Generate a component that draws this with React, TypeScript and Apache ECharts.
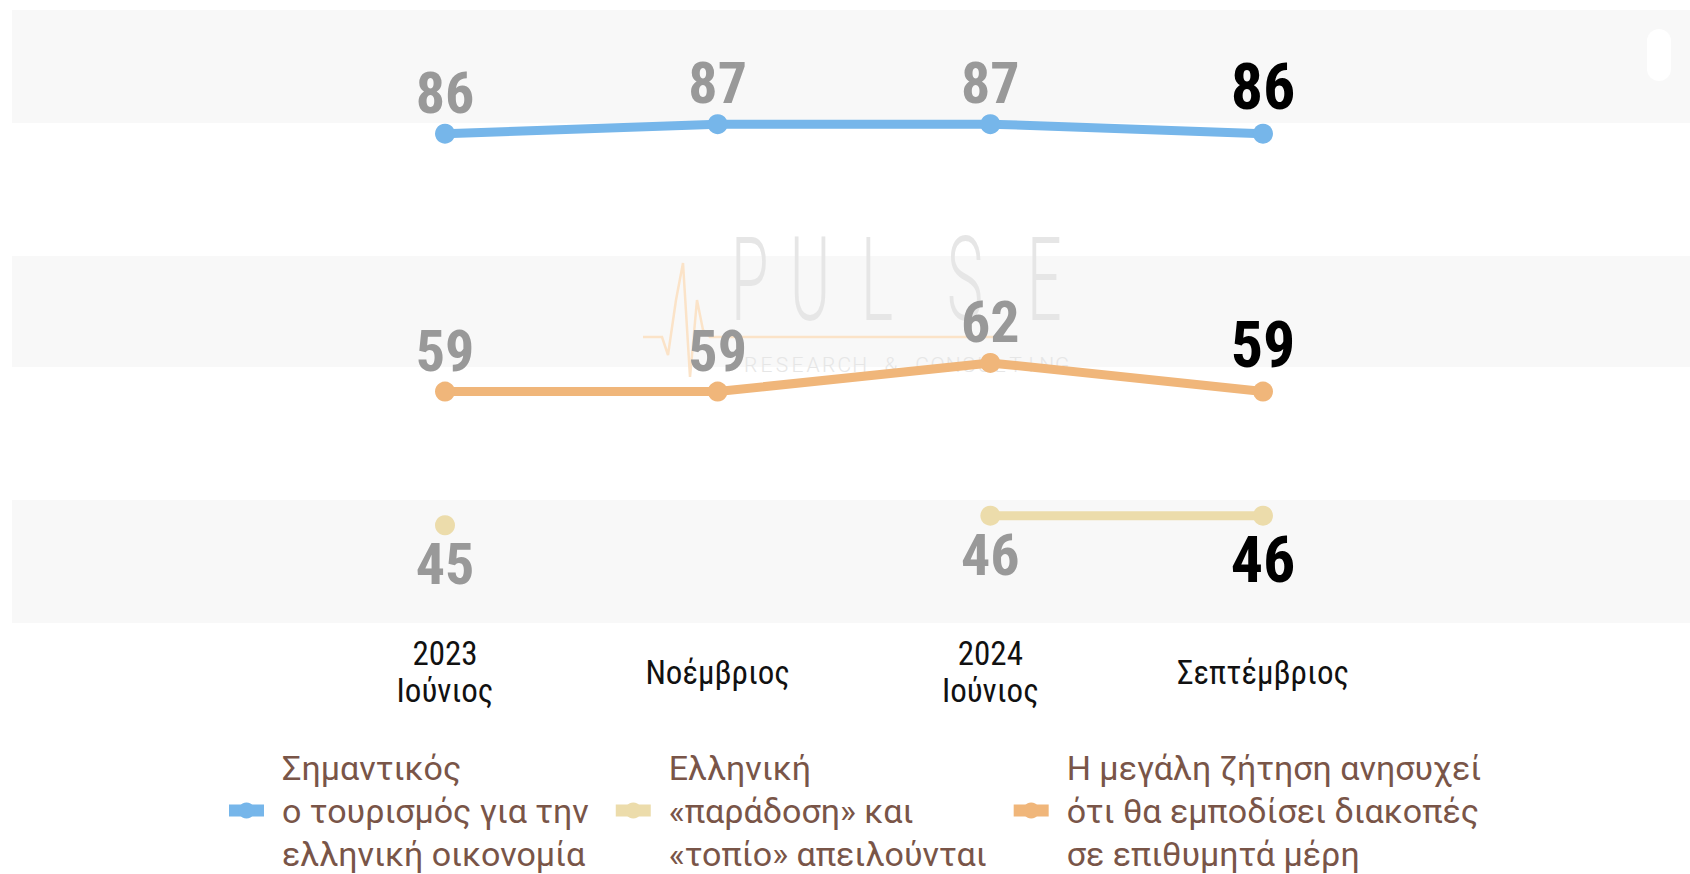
import React, { useEffect, useRef } from "react";
import * as echarts from "echarts";

const categories = ["2023\nΙούνιος", "Νοέμβριος", "2024\nΙούνιος", "Σεπτέμβριος"];

const nameTourism = "Σημαντικός ο τουρισμός για την ελληνική οικονομία";
const nameTradition = "Ελληνική «παράδοση» και «τοπίο» απειλούνται";
const nameDemand = "Η μεγάλη ζήτηση ανησυχεί ότι θα εμποδίσει διακοπές σε επιθυμητά μέρη";

const legendTourism = ["Σημαντικός", "ο τουρισμός για την", "ελληνική οικονομία"];
const legendTradition = ["Ελληνική", "«παράδοση» και", "«τοπίο» απειλούνται"];
const legendDemand = ["Η μεγάλη ζήτηση ανησυχεί", "ότι θα εμποδίσει διακοπές", "σε επιθυμητά μέρη"];

const tourismValues = [86, 87, 87, 86];
const traditionValues: (number | null)[] = [45, null, 46, 46];
const demandValues = [59, 59, 62, 59];

const colorTourism = "#76b6ea";
const colorTradition = "#ecdcab";
const colorDemand = "#f0b67a";

const CONDENSED = "'Roboto Condensed', 'Liberation Sans Narrow', 'Arial Narrow', 'DejaVu Sans Condensed', sans-serif";

function buildData(values: (number | null)[], pos: "top" | "bottom") {
  const last = values.length - 1;
  return values.map((v, i) =>
    i === last
      ? { value: v, label: { color: "#000000", fontSize: 64, distance: pos === "top" ? 4 : 2.5 } }
      : v
  );
}

function lineSeries(name: string, values: (number | null)[], color: string, pos: "top" | "bottom") {
  return {
    name,
    type: "line",
    data: buildData(values, pos),
    connectNulls: false,
    symbol: "circle",
    symbolSize: 20,
    showAllSymbol: true,
    lineStyle: { width: 9, color },
    itemStyle: { color },
    label: {
      show: true,
      position: pos,
      distance: pos === "top" ? 2 : 0,
      color: "#999999",
      fontFamily: CONDENSED,
      fontWeight: "bold",
      fontSize: 58,
    },
    emphasis: { disabled: true },
    z: 3,
  };
}

export default function App() {
  const ref = useRef<HTMLDivElement>(null);

  useEffect(() => {
    if (!ref.current) return;
    const chart = echarts.init(ref.current, undefined, { renderer: "svg" });

    const legendMap: Record<string, string[]> = {
      [nameTourism]: legendTourism,
      [nameTradition]: legendTradition,
      [nameDemand]: legendDemand,
    };

    const bandColor = "#f8f8f8";
    const wmColor = "#e6e6e6";
    const pulseLetters = [
      { ch: "P", x: 731 },
      { ch: "U", x: 790 },
      { ch: "L", x: 861 },
      { ch: "S", x: 947 },
      { ch: "E", x: 1027 },
    ];
    const sub = "RESEARCH & CONSULTING";
    const subStep = 327 / sub.length;

    const graphics: any[] = [
      { type: "rect", shape: { x: 12, y: 10, width: 1678, height: 113 }, style: { fill: bandColor }, z: 0, silent: true },
      { type: "rect", shape: { x: 12, y: 256, width: 1678, height: 111 }, style: { fill: bandColor }, z: 0, silent: true },
      { type: "rect", shape: { x: 12, y: 500, width: 1678, height: 123 }, style: { fill: bandColor }, z: 0, silent: true },
      { type: "rect", shape: { x: 1647, y: 29, width: 24, height: 52, r: 12 }, style: { fill: "#ffffff" }, z: 1, silent: true },
      {
        type: "polyline",
        shape: {
          points: [
            [643, 337], [662, 337], [668, 355], [676, 300], [683, 263], [690, 377],
            [697, 300], [703, 330], [710, 337], [1000, 337],
          ],
        },
        style: { stroke: "#fbe3c8", lineWidth: 2.5, fill: null },
        z: 1,
        silent: true,
      },
      ...pulseLetters.map((l) => ({
        type: "text",
        x: l.x,
        y: 280,
        scaleX: 0.52,
        style: {
          text: l.ch,
          fontFamily: "Roboto",
          fontWeight: 300,
          fontSize: 117,
          fill: wmColor,
          align: "left",
          verticalAlign: "middle",
        },
        z: 1,
        silent: true,
      })),
      ...sub.split("").map((ch, i) => ({
        type: "text",
        x: 743 + subStep * i + subStep / 2,
        y: 365,
        style: {
          text: ch,
          fontFamily: "Roboto",
          fontWeight: 300,
          fontSize: 21,
          fill: wmColor,
          align: "center",
          verticalAlign: "middle",
        },
        z: 1,
        silent: true,
      })),
    ];

    chart.setOption({
      animation: false,
      backgroundColor: "#ffffff",
      grid: { left: 445, right: 427, top: 0, bottom: 301 },
      xAxis: {
        type: "category",
        data: categories,
        boundaryGap: false,
        axisLine: { show: false },
        axisTick: { show: false },
        splitLine: { show: false },
        axisLabel: {
          interval: 0,
          margin: 99,
          verticalAlign: "middle",
          color: "#111111",
          fontFamily: CONDENSED,
          fontSize: 33,
          lineHeight: 37,
        },
      },
      yAxis: {
        type: "value",
        min: 40,
        max: 100,
        show: false,
        splitLine: { show: false },
      },
      legend: {
        data: [nameTourism, nameTradition, nameDemand],
        left: 223,
        top: 746,
        padding: 0,
        itemWidth: 35,
        itemHeight: 20,
        itemGap: 21,
        selectedMode: false,
        lineStyle: { width: 12 },
        formatter: (name: string) => (legendMap[name] || [name]).join("\n"),
        textStyle: {
          color: "#795548",
          fontFamily: "Roboto",
          fontSize: 34,
          lineHeight: 43,
          padding: [0, 0, 0, 13],
        },
      },
      graphic: { elements: graphics },
      series: [
        lineSeries(nameTourism, tourismValues, colorTourism, "top"),
        lineSeries(nameTradition, traditionValues, colorTradition, "bottom"),
        lineSeries(nameDemand, demandValues, colorDemand, "top"),
      ],
    });

    return () => chart.dispose();
  }, []);

  return (
    <div
      ref={ref}
      style={{ position: "absolute", left: 0, top: 0, width: 1690, height: 874 }}
    />
  );
}
